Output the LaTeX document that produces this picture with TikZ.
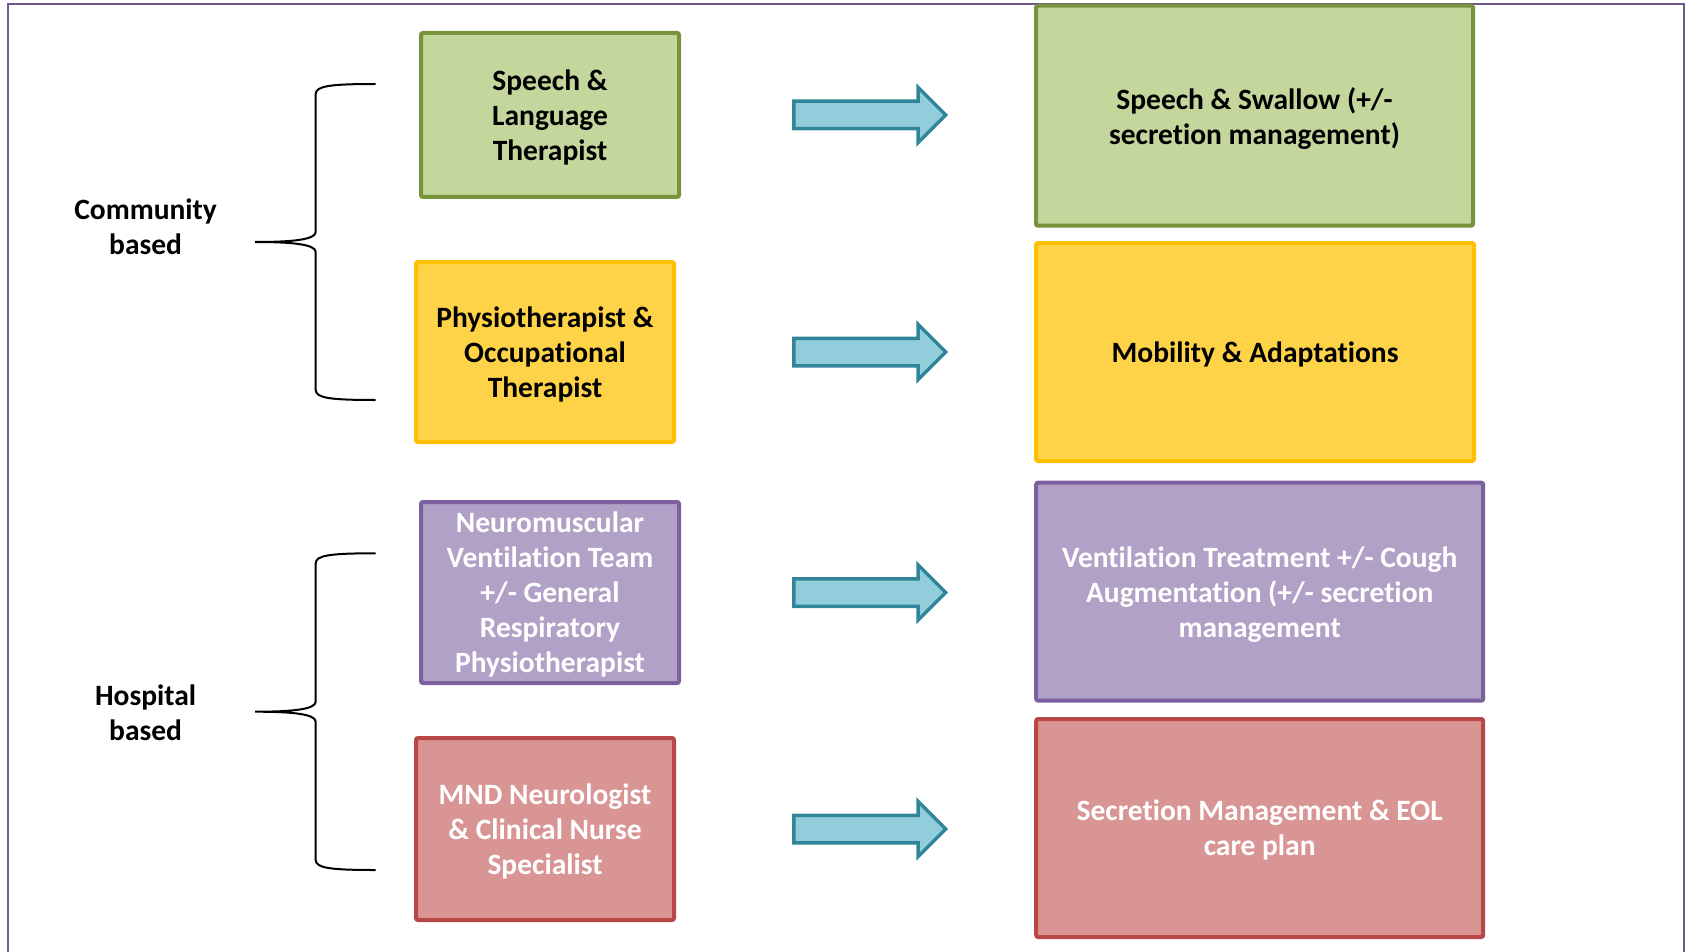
\documentclass[tikz,border=0pt]{standalone}
\usepackage{fontspec}
\setmainfont{Carlito}[Ligatures=NoCommon]
\usetikzlibrary{shapes.arrows}

\definecolor{framecol}{RGB}{112,88,145}
\definecolor{greenfill}{RGB}{195,214,155}
\definecolor{greenline}{RGB}{119,147,60}
\definecolor{yellowfill}{RGB}{255,211,71}
\definecolor{yellowline}{RGB}{255,192,0}
\definecolor{purplefill}{RGB}{178,161,199}
\definecolor{purpleline}{RGB}{124,96,160}
\definecolor{redfill}{RGB}{217,149,148}
\definecolor{redline}{RGB}{184,72,70}
\definecolor{arrowfill}{RGB}{146,205,220}
\definecolor{arrowline}{RGB}{49,133,155}

\begin{document}
\begin{tikzpicture}[x=1pt,y=-1pt,
  txt/.style={font=\fontsize{29.5}{35}\selectfont\bfseries},
  box/.style={rectangle, rounded corners=2pt, line width=4pt, inner sep=0pt,
    align=center, text depth=0pt, txt},
  greenbox/.style={box, fill=greenfill, draw=greenline, text=black},
  yellowbox/.style={box, fill=yellowfill, draw=yellowline, text=black},
  purplebox/.style={box, fill=purplefill, draw=purpleline, text=white},
  redbox/.style={box, fill=redfill, draw=redline, text=white},
  leftsize/.style={minimum width=258pt, minimum height=#1},
  rightsize/.style={minimum width=#1, minimum height=218pt},
  blockarrow/.style={single arrow, draw=arrowline, fill=arrowfill,
    line width=3.5pt, inner xsep=0pt, inner ysep=12pt,
    single arrow head extend=14pt, minimum height=152pt, anchor=tail},
  bracket/.style={line width=2pt, black},
  grouplabel/.style={align=center, txt}
]
\useasboundingbox (0,0) rectangle (1691,952);

% outer frame, open at the bottom
\draw[framecol, line width=2pt] (7.5,952) -- (7.5,4.5) -- (1684,4.5) -- (1684,952);

% providers
\node[greenbox, leftsize=164pt]  (gl) at (550,115)   {Speech \&\\Language\\Therapist};
\node[yellowbox, leftsize=180pt] (yl) at (545,352)   {Physiotherapist \&\\Occupational\\Therapist};
\node[purplebox, leftsize=181pt] (pl) at (550,592.5) {Neuromuscular\\Ventilation Team\\+/- General\\Respiratory\\Physiotherapist};
\node[redbox, leftsize=182pt]    (rl) at (545,829)   {MND Neurologist\\\& Clinical Nurse\\Specialist};

% services
\node[greenbox, rightsize=437pt, minimum height=220pt]  (gr) at (1254.5,115.7) {Speech \& Swallow (+/-\\secretion management)};
\node[yellowbox, rightsize=438pt] (yr) at (1255,352)     {Mobility \& Adaptations};
\node[purplebox, rightsize=447pt] (pr) at (1259.7,591.7) {Ventilation Treatment +/- Cough\\Augmentation (+/- secretion\\management};
\node[redbox, rightsize=447pt]    (rr) at (1259.7,828)   {Secretion Management \& EOL\\care plan};

% block arrows from provider to service
\node[blockarrow] (a1) at (792,0 |- gl) {};
\node[blockarrow] (a2) at (792,0 |- yl) {};
\node[blockarrow] (a3) at (792,0 |- pl) {};
\node[blockarrow] (a4) at (792,0 |- rl) {};

% group labels
\node[grouplabel] (comm) at (145.6,226.5) {Community\\based};
\node[grouplabel] (hosp) at (145.6,712.8) {Hospital\\based};

% curly brackets
\coordinate (b1top) at (375.7,84);
\coordinate (b1tip) at (255,242);
\coordinate (b1bot) at (375.7,400);
\draw[bracket] (b1top) .. controls (330,84) and (315.7,86) .. (315.7,94)
  -- (315.7,232) .. controls (315.7,240) and (290,242) .. (b1tip)
  .. controls (290,242) and (315.7,244) .. (315.7,252)
  -- (315.7,390) .. controls (315.7,398) and (330,400) .. (b1bot);

\coordinate (b2top) at (375.7,553.3);
\coordinate (b2tip) at (255,711.7);
\coordinate (b2bot) at (375.7,870);
\draw[bracket] (b2top) .. controls (330,553.3) and (315.7,555.3) .. (315.7,563.3)
  -- (315.7,701.7) .. controls (315.7,709.7) and (290,711.7) .. (b2tip)
  .. controls (290,711.7) and (315.7,713.7) .. (315.7,721.7)
  -- (315.7,860) .. controls (315.7,868) and (330,870) .. (b2bot);
\end{tikzpicture}
\end{document}
